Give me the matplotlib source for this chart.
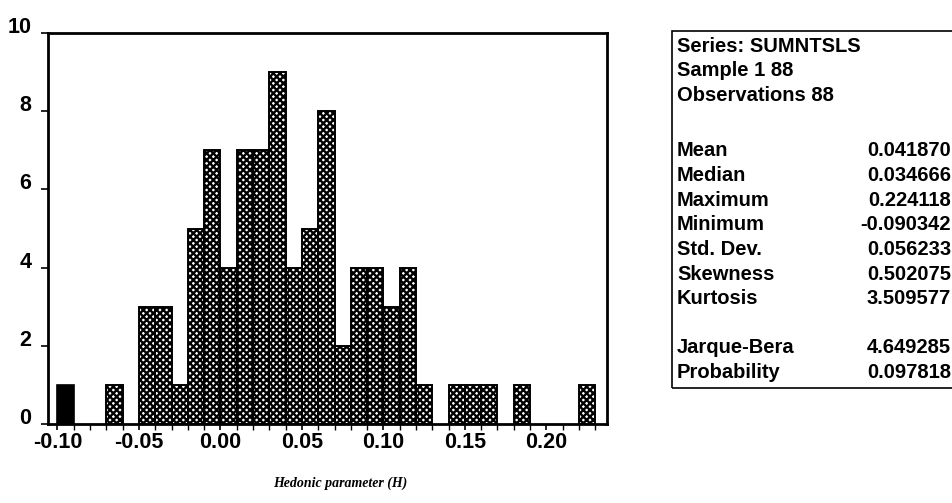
import matplotlib

matplotlib.use("Agg")

import matplotlib.pyplot as plt
import numpy as np
from matplotlib import ticker
from matplotlib.patches import Rectangle

# histogram of SUMNTSLS, bin width 0.01 starting at -0.10
BIN_START = -0.10
BIN_WIDTH = 0.01
COUNTS = [1, 0, 0, 1, 0, 3, 3, 1, 5, 7, 4, 7, 7, 9, 4, 5, 8, 2, 4, 4, 3, 4, 1,
          0, 1, 1, 1, 0, 1, 0, 0, 0, 1]
HIGHLIGHT_BIN = 0  # bin holding the minimum drawn solid

X_TICKS = [-0.10, -0.05, 0.00, 0.05, 0.10, 0.15, 0.20]
Y_TICKS = [0, 2, 4, 6, 8, 10]
XLABEL = "Hedonic parameter (H)"

HEADER = ["Series: SUMNTSLS", "Sample 1 88", "Observations 88"]
STAT_NAMES = ["Mean", "Median", "Maximum", "Minimum", "Std. Dev.", "Skewness", "Kurtosis"]
STAT_VALUES = ["0.041870", "0.034666", "0.224118", "-0.090342", "0.056233", "0.502075", "3.509577"]
TEST_NAMES = ["Jarque-Bera", "Probability"]
TEST_VALUES = ["4.649285", "0.097818"]

W, H = 953, 503
SANS = ["Liberation Sans", "DejaVu Sans"]
TABLE_FS = 14.5

plt.rcParams["hatch.linewidth"] = 1.7
plt.rcParams["hatch.color"] = "black"

fig = plt.figure(figsize=(W / 100, H / 100), dpi=100)
fig.patch.set_facecolor("white")

ax = fig.add_axes([48 / W, 1 - 424 / H, (607 - 48) / W, (424 - 33) / H])

edges = BIN_START + BIN_WIDTH * np.arange(len(COUNTS))
for i, (left, c) in enumerate(zip(edges, COUNTS)):
    if c == 0:
        continue
    if i == HIGHLIGHT_BIN:
        ax.bar(left, c, width=BIN_WIDTH, align="edge", color="black",
               edgecolor="black", linewidth=1.2)
    else:
        ax.bar(left, c, width=BIN_WIDTH, align="edge", color="white",
               edgecolor="black", linewidth=1.4, hatch="xxxxx")

ax.set_xlim(-0.1058, 0.2372)
ax.set_ylim(0, 10)
ax.set_xticks(X_TICKS)
ax.set_xticklabels([f"{t:.2f}" for t in X_TICKS])
ax.xaxis.set_minor_locator(ticker.MultipleLocator(0.01))
ax.set_yticks(Y_TICKS)

for side in ax.spines.values():
    side.set_linewidth(2.0)
ax.tick_params(axis="x", which="major", direction="out", length=4, width=1.2,
               labelsize=15.5, pad=2)
ax.tick_params(axis="x", which="minor", direction="out", length=4, width=1.0)
ax.tick_params(axis="y", which="major", direction="out", length=5, width=1.2,
               labelsize=15.5, pad=7)
for lab in ax.get_xticklabels() + ax.get_yticklabels():
    lab.set_fontfamily(SANS)
    lab.set_fontweight("bold")
for lab in ax.get_yticklabels():
    lab.set_va("baseline")

fig.text(340 / W, 1 - 483 / H, XLABEL, ha="center", va="center",
         family=["Liberation Serif", "DejaVu Serif"], style="italic",
         fontweight="bold", fontsize=10)

# statistics box, right side runs off the page
box_left, box_top, box_bottom = 672, 31, 388
fig.add_artist(Rectangle((box_left / W, 1 - box_bottom / H),
                         (W + 10 - box_left) / W, (box_bottom - box_top) / H,
                         transform=fig.transFigure, fill=False,
                         edgecolor="black", linewidth=1.2, clip_on=False))

row_h = 24.6


def row(y, name, value=None):
    fig.text(677 / W, 1 - y / H, name, ha="left", va="center", family=SANS,
             fontsize=TABLE_FS, fontweight="bold")
    if value is not None:
        fig.text(951 / W, 1 - y / H, value, ha="right", va="center",
                 family=SANS, fontsize=TABLE_FS, fontweight="bold")


y = 46
for line in HEADER:
    row(y, line)
    y += row_h
y = 151
for name, val in zip(STAT_NAMES, STAT_VALUES):
    row(y, name, val)
    y += row_h
y += row_h
for name, val in zip(TEST_NAMES, TEST_VALUES):
    row(y, name, val)
    y += row_h

fig.savefig("out.png", dpi=100, facecolor="white")
